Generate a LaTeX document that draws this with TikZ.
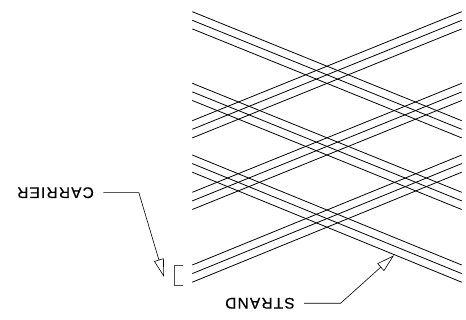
\documentclass[tikz,border=0pt]{standalone}
\usepackage{fontspec}
\usetikzlibrary{arrows.meta}
\newfontfamily\cadfont[LetterSpace=8,FakeBold=0.5]{Liberation Sans}

\tikzset{
	strandline/.style={line width=0.8pt},
	leaderline/.style={line width=0.6pt,-{Triangle[open,length=18pt,width=10pt]}},
	leaderlabel/.style={rotate=180,font=\cadfont\fontsize{15.4}{15.4}\selectfont,inner sep=0pt,outer xsep=9.5pt,outer ysep=0pt},
	bracketline/.style={line width=0.7pt,black!70}
}

\begin{document}
\begin{tikzpicture}[x=1pt,y=-1pt]
	\useasboundingbox (0,0) rectangle (466,320);
	% three crossing pairs of carriers
	\foreach \topy/\boty in {11.7/120.7,83.3/192.3,155/265}{
		\foreach \off in {0,8.6,17.2}{
			\draw[strandline] (192.3,\topy+\off) -- (461.7,\boty+\off);
			\draw[strandline] (192.3,\boty+\off) -- (461.7,\topy+\off);
		}
	}
	% labels
	\node[leaderlabel] (carrier) at (55.5,192.7) {CARRIER};
	\node[leaderlabel] (strand) at (260,303.3) {STRAND};
	\coordinate (carriertip) at (164,277);
	\coordinate (strandtip) at (394,255.3);
	\draw[leaderline] (carrier.west) -- ++(35.5,0) -- (carriertip);
	\draw[leaderline] (strand.west) -- ++(36.3,0) -- (strandtip);
	\draw[bracketline] (182.7,265) -- (174.3,265) -- (174.3,285) -- (182.7,285);
\end{tikzpicture}
\end{document}
